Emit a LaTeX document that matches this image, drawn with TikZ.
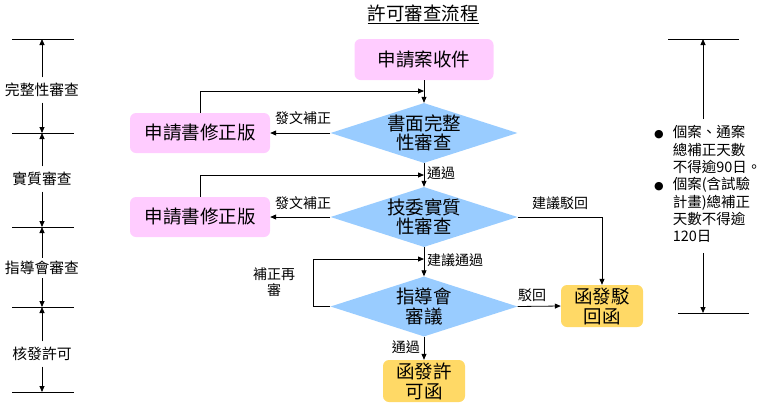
\documentclass[tikz,border=0pt]{standalone}
\usepackage{fontspec}
\usepackage{tikz}
\usetikzlibrary{shapes.geometric,arrows.meta}
\newfontfamily\cjk{Noto Sans CJK TC}
\newfontfamily\sym{DejaVu Sans}
\definecolor{pinkfill}{HTML}{FFCCFF}
\definecolor{bluefill}{HTML}{99CCFF}
\definecolor{goldfill}{HTML}{FFD966}
\definecolor{ink}{HTML}{000000}
\tikzset{
  line/.style={draw=ink, line width=0.8pt},
  flow/.style={line, -{Triangle[length=6pt,width=5pt]}},
  pinkbox/.style={fill=pinkfill, rounded corners=6pt, minimum width=139pt, minimum height=41pt, inner sep=0pt, font=\cjk\fontsize{18.5}{20}\selectfont},
  goldbox/.style={fill=goldfill, rounded corners=6pt, minimum width=82pt, minimum height=42pt, inner sep=0pt, align=center, font=\cjk\fontsize{18.5}{20}\selectfont},
  dia/.style={diamond, fill=bluefill, minimum width=187pt, minimum height=60pt, inner sep=0pt},
  diatxt/.style={align=center, inner sep=0pt, font=\cjk\fontsize{18.5}{19.5}\selectfont},
  lab/.style={font=\cjk\fontsize{14}{16}\selectfont, inner sep=1pt, align=center},
  scalelab/.style={font=\cjk\fontsize{14.8}{17}\selectfont, inner sep=0pt, minimum height=25pt},
  titlelab/.style={font=\cjk\fontsize{18.5}{20}\selectfont, inner sep=0pt},
}

\begin{document}
\begin{tikzpicture}[x=1pt,y=-1pt]
  \useasboundingbox (0,0) rectangle (764,408);

  \node[titlelab] (title) at (423,14) {\underline{許可審查流程}};

  % main column
  \node[pinkbox] (recv) at (424,59.5) {申請案收件};
  \node[dia] (d1) at (424,133) {};
  \node[diatxt] (d1t) at (d1) {書面完整\\性審查};
  \node[dia] (d2) at (424,217) {};
  \node[diatxt] (d2t) at (d2) {技委實質\\性審查};
  \node[dia] (d3) at (424,306.5) {};
  \node[diatxt] (d3t) at (d3) {指導會\\審議};
  \node[goldbox] (pass) at (424,381) {函發許\\可函};
  \node[goldbox] (rej) at (602,306) {函發駁\\回函};

  % revision boxes
  \node[pinkbox,minimum width=140pt,minimum height=40pt] (fix1) at (200,133) {申請書修正版};
  \node[pinkbox,minimum width=140pt,minimum height=40pt] (fix2) at (200,217) {申請書修正版};

  \coordinate (j1) at (424,91);
  \coordinate (j2) at (424,175);
  \coordinate (j3) at (424,259);

  \draw[flow] (recv) -- (d1);
  \draw[flow] (d1.west) -- (fix1.east);
  \draw[flow] (fix1.north) |- (j1);
  \draw[flow] (d1) -- (d2);
  \draw[flow] (d2.west) -- (fix2.east);
  \draw[flow] (fix2.north) |- (j2);
  \draw[flow] (d2.east) -| (rej.north);
  \draw[flow] (d2) -- (d3);
  \draw[flow] (d3.west) -- ++(-17,0) |- (j3); % back to review
  \draw[flow] (d3.east) -- (rej.west);
  \draw[flow] (d3) -- (pass);

  \node[lab] (l1) at (303,118) {發文補正};
  \node[lab,anchor=west] (l2) at (426,173) {通過};
  \node[lab] (l3) at (303,203) {發文補正};
  \node[lab] (l4) at (560,203) {建議駁回};
  \node[lab,anchor=west] (l5) at (426,260) {建議通過};
  \node[lab] (l6) at (274,282) {補正再\\審};
  \node[lab] (l7) at (532,295) {駁回};
  \node[lab,anchor=east] (l8) at (421,347) {通過};

  % left scale
  \foreach \y in {39,133,227,307,392}
    \draw[line] (12,\y) -- (74,\y);
  \coordinate (s0) at (42,39);
  \coordinate (s1) at (42,133);
  \coordinate (s2) at (42,227);
  \coordinate (s3) at (42,307);
  \coordinate (s4) at (42,392);
  \node[scalelab] (sA) at (42,90) {完整性審查};
  \node[scalelab] (sB) at (42,179) {實質審查};
  \node[scalelab,minimum height=20pt] (sC) at (42,268) {指導會審查};
  \node[scalelab] (sD) at (42,354) {核發許可};
  \draw[flow] (sA) -- (s0);
  \draw[flow] (sA) -- (s1);
  \draw[flow] (sB) -- (s1);
  \draw[flow] (sB) -- (s2);
  \draw[flow] (sC) -- (s2);
  \draw[flow] (sC) -- (s3);
  \draw[flow] (sD) -- (s3);
  \draw[flow] (sD) -- (s4);

  % right note
  \draw[line] (668,39) -- (739,39);
  \draw[line] (678,313) -- (749,313);
  \coordinate (r0) at (703,39);
  \coordinate (r1) at (703,313);
  \node[anchor=west,inner xsep=0pt,inner ysep=6pt,font=\cjk\fontsize{14.5}{17}\selectfont] (note) at (654,186)
    {\begin{tabular}{@{}l@{\hspace{9pt}}l@{}}
      {\sym\fontsize{11}{11}\selectfont ●} & 個案、通案\\
      & 總補正天數\\
      & 不得逾90日。\\
      {\sym\fontsize{11}{11}\selectfont ●} & 個案(含試驗\\
      & 計畫)總補正\\
      & 天數不得逾\\
      & 120日
    \end{tabular}};
  \draw[flow] (note.north -| r0) -- (r0);
  \draw[flow] (note.south -| r0) -- (r1);
\end{tikzpicture}
\end{document}
